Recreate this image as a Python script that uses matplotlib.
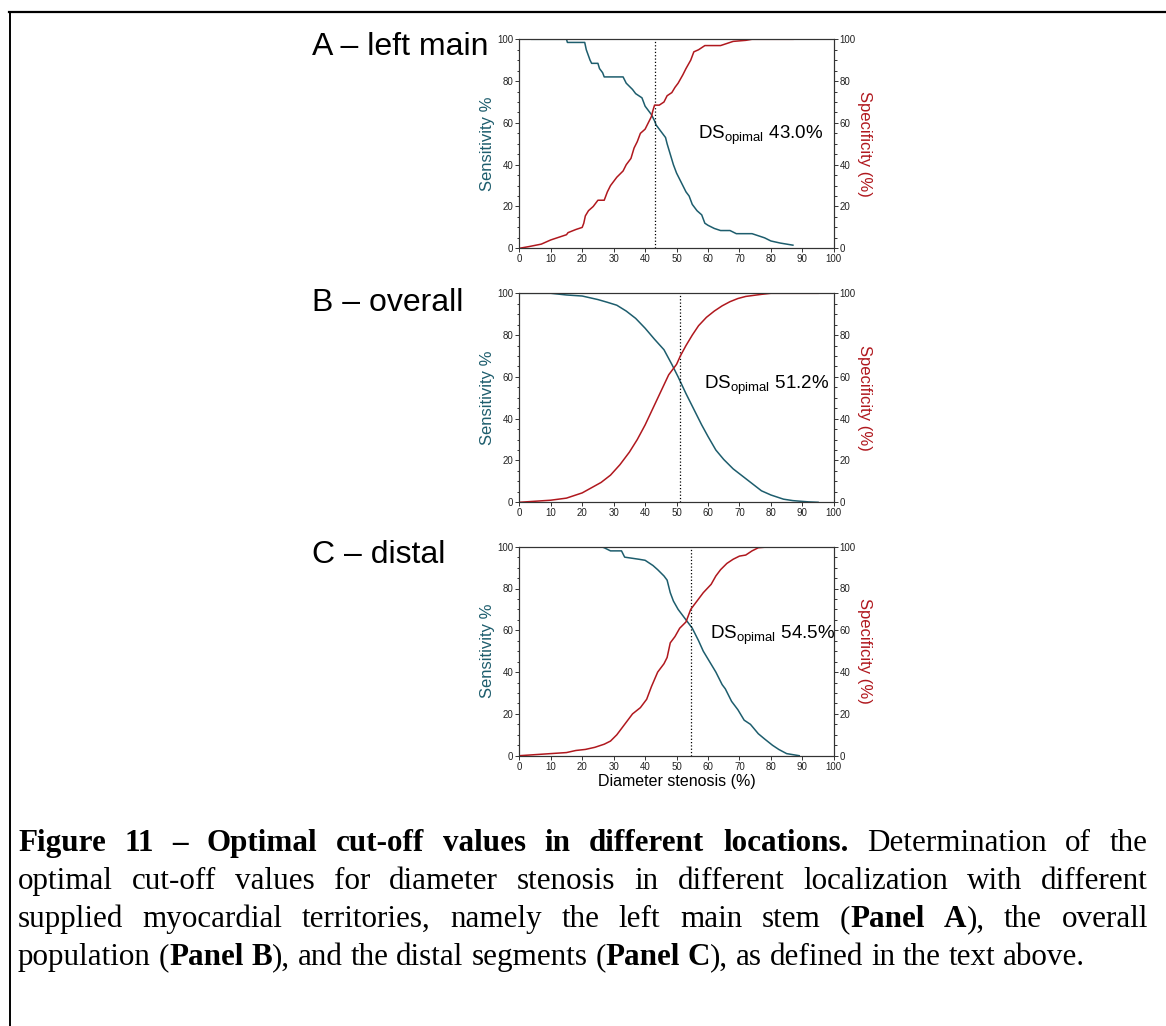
import matplotlib
matplotlib.use("Agg")
import matplotlib.pyplot as plt
from matplotlib.ticker import MultipleLocator
from matplotlib.lines import Line2D

plt.rcParams['font.family'] = ['Liberation Sans', 'DejaVu Sans']

BLUE = '#1d5d6d'
RED = '#b0181e'
W, H = 1166, 1026

# A - left main
a_sens_x = [4, 15, 15.3, 20.8, 21.3, 22.5, 23, 25, 25.5, 26.5, 27, 33, 34, 35, 36, 37, 38, 39, 40, 41,
            42, 43, 43.5, 44.5, 45.5, 46.5, 47, 48, 49, 50, 51, 52, 53, 54, 55, 56.5, 58, 59, 60, 62,
            64, 67, 69, 74, 76, 78, 80, 83, 87]
a_sens_y = [100, 100, 98.5, 98.5, 95, 90, 88.5, 88.5, 86, 84, 82, 82, 79, 77.5, 76, 74, 73, 72, 68, 66,
            64, 61, 59, 57, 55, 53, 50, 45, 40, 36, 33, 30, 27, 25, 21, 18, 16, 12, 11, 9.5,
            8.5, 8.5, 7, 7, 6, 5, 3.5, 2.5, 1.5]
a_spec_x = [0, 3, 7, 10, 13, 15, 15.5, 18, 20, 20.5, 21, 22, 23.5, 25, 27, 28, 29, 31, 33, 34,
            35.5, 36.5, 37.5, 38.5, 40, 41, 42, 42.5, 43, 44.5, 46, 47, 48.5, 49.5, 50.5, 52, 53, 54.5, 55.5, 57,
            59, 64, 66, 68, 72, 74, 87]
a_spec_y = [0, 0.8, 2, 4, 5.5, 6.5, 7.5, 9, 10, 12, 15.5, 18, 20, 23, 23, 27, 30, 34, 37, 40,
            43, 48, 51, 55, 57, 60, 63, 66, 68.5, 68.5, 70, 73, 74.5, 77, 79, 83, 86, 90, 94, 95,
            97, 97, 98, 99, 99.5, 100, 100]

# B - overall
b_sens_x = [0, 10, 15, 20, 25, 28, 31, 34, 37, 40, 43, 46, 48.5, 50.5, 53, 55.5, 58, 60, 62.5, 65,
            68, 71, 74, 77, 80, 84, 87, 92, 95]
b_sens_y = [100, 100, 99.2, 98.7, 97, 95.7, 94.3, 91.5, 88, 83.3, 78, 73, 66, 60, 52, 44.5, 37, 31.5, 25, 20.5,
            16, 12.5, 9, 5.5, 3.5, 1.5, 0.8, 0.2, 0]
b_spec_x = [0, 5, 10, 15, 20, 23, 26, 29, 32, 35, 37.5, 40, 42.5, 45, 47.5, 50, 51.2, 53, 55, 57,
            59.5, 62, 64.5, 67, 69.5, 72, 77, 80, 95]
b_spec_y = [0, 0.5, 1, 2, 4.5, 7, 9.5, 13, 18, 24, 30, 37, 45, 53, 61, 66, 70, 75, 80, 84.5,
            88.5, 91.5, 94, 96, 97.5, 98.5, 99.5, 100, 100]

# C - distal
c_sens_x = [3, 26, 27, 29, 32.5, 33.5, 38, 40, 42.5, 44, 46, 47, 48, 49, 50.5, 52, 53.5, 55, 57, 58.5,
            60.5, 62.5, 64.5, 65.5, 67.5, 69.5, 71.5, 73.5, 76, 78, 80.5, 82.5, 85, 87, 89]
c_sens_y = [100, 100, 99.5, 98, 98, 95, 94, 93.5, 91, 89, 86, 84, 78, 74, 70, 67, 64, 61, 55, 50,
            45, 40, 34, 32, 26, 22, 17, 15, 10.5, 8, 5, 3, 1, 0.5, 0]
c_spec_x = [0, 5, 10, 15, 18, 21, 24, 27, 29, 31, 32.5, 34, 36, 38.5, 40.5, 42, 44, 46, 47, 48,
            49.5, 51, 53, 54.5, 56.5, 58.5, 61, 62.5, 64, 66, 68, 70, 72, 74, 76, 80, 89]
c_spec_y = [0, 0.5, 1, 1.5, 2.5, 3, 4, 5.5, 7, 10, 13, 16, 20, 23, 27, 33, 40, 44, 47, 54,
            57, 61, 64, 70, 74, 78, 82, 86, 89, 92, 94, 95.5, 96, 98, 99.5, 100, 100]

titles = ['A \u2013 left main', 'B \u2013 overall', 'C \u2013 distal']
cutoffs = [43.0, 51.2, 54.5]
sens = [(a_sens_x, a_sens_y), (b_sens_x, b_sens_y), (c_sens_x, c_sens_y)]
spec = [(a_spec_x, a_spec_y), (b_spec_x, b_spec_y), (c_spec_x, c_spec_y)]

fig = plt.figure(figsize=(W / 100, H / 100), dpi=100)

# frame around the figure
fig.add_artist(Line2D([9 / W, 1], [1 - 12 / H] * 2, transform=fig.transFigure, color='black', lw=1.6))
fig.add_artist(Line2D([9.5 / W] * 2, [1 - 12 / H, 0], transform=fig.transFigure, color='black', lw=1.4))

tops = [39.3, 293.3, 546.7]
title_base = [55, 311, 563]
ann_pos = [(56.7, 54), (58.8, 56), (60.6, 57.7)]

for i in range(3):
    ax = fig.add_axes([519.3 / W, 1 - (tops[i] + 209) / H, 314.5 / W, 209 / H])
    ax2 = ax.twinx()
    ax.plot(sens[i][0], sens[i][1], color=BLUE, lw=1.1)
    ax2.plot(spec[i][0], spec[i][1], color=RED, lw=1.1)
    ax.axvline(cutoffs[i], color='black', ls=':', lw=0.9)
    for a in (ax, ax2):
        a.set_xlim(0, 100)
        a.set_ylim(0, 100)
        a.set_yticks(range(0, 101, 20))
        a.yaxis.set_minor_locator(MultipleLocator(5))
        a.tick_params(which='both', color='#333333', width=0.7, labelsize=7, pad=1.2,
                      labelcolor='#222222')
        a.tick_params(which='major', length=3)
        a.tick_params(which='minor', length=1.8)
        for s in a.spines.values():
            s.set_color('#333333')
            s.set_linewidth(0.8)
    ax.set_xticks(range(0, 101, 10))
    ax.set_ylabel('Sensitivity %', color=BLUE, fontsize=12, labelpad=2)
    ax2.set_ylabel('Specificity (%)', color=RED, fontsize=12, rotation=270, labelpad=12)
    ax.text(ann_pos[i][0], ann_pos[i][1],
            'DS$_{\\mathregular{opimal}}$ %.1f%%' % cutoffs[i],
            fontsize=13.5, va='center', ha='left')
    fig.text(312 / W, 1 - title_base[i] / H, titles[i], fontsize=23, va='baseline', ha='left')
    if i == 2:
        ax.set_xlabel('Diameter stenosis (%)', fontsize=11.5, labelpad=2)

# caption, justified like the document text
cap_lines = [
    [[('Figure', 1)], [('11', 1)], [('\u2013', 1)], [('Optimal', 1)], [('cut-off', 1)], [('values', 1)],
     [('in', 1)], [('different', 1)], [('locations.', 1)], [('Determination', 0)], [('of', 0)], [('the', 0)]],
    [[(w, 0)] for w in 'optimal cut-off values for diameter stenosis in different localization with different'.split()],
    [[(w, 0)] for w in 'supplied myocardial territories, namely the left main stem'.split()]
    + [[('(', 0), ('Panel', 1)], [('A', 1), ('),', 0)], [('the', 0)], [('overall', 0)]],
    [[('population', 0)], [('(', 0), ('Panel', 1)], [('B', 1), ('),', 0)]]
    + [[(w, 0)] for w in 'and the distal segments'.split()]
    + [[('(', 0), ('Panel', 1)], [('C', 1), ('),', 0)]]
    + [[(w, 0)] for w in 'as defined in the text above.'.split()],
]
cap_left, cap_right = 18, 1148
cap_base = [851, 889, 927, 965]

renderer = fig.canvas.get_renderer()


def run_width(s, bold, size):
    t = fig.text(0, 0, s, fontsize=size, family='Liberation Serif',
                 weight='bold' if bold else 'normal')
    w = t.get_window_extent(renderer).width
    t.remove()
    return w


def word_width(word, size):
    return sum(run_width(s, b, size) for s, b in word)


# fit font size so last (unjustified) line has its natural width
ref = 20
last_w = sum(word_width(wd, ref) for wd in cap_lines[3]) + 0.25 * ref * 100 / 72 * (len(cap_lines[3]) - 1)
cap_size = ref * (1085 - cap_left) / last_w

for li, line in enumerate(cap_lines):
    widths = [word_width(wd, cap_size) for wd in line]
    if li < 3:
        gap = (cap_right - cap_left - sum(widths)) / (len(line) - 1)
    else:
        gap = 0.25 * cap_size * 100 / 72
    x = cap_left
    for wd, ww in zip(line, widths):
        xx = x
        for s, b in wd:
            fig.text(xx / W, 1 - cap_base[li] / H, s, fontsize=cap_size, family='Liberation Serif',
                     weight='bold' if b else 'normal', va='baseline', ha='left')
            xx += run_width(s, b, cap_size)
        x += ww + gap

fig.savefig('out.png', dpi=100)
